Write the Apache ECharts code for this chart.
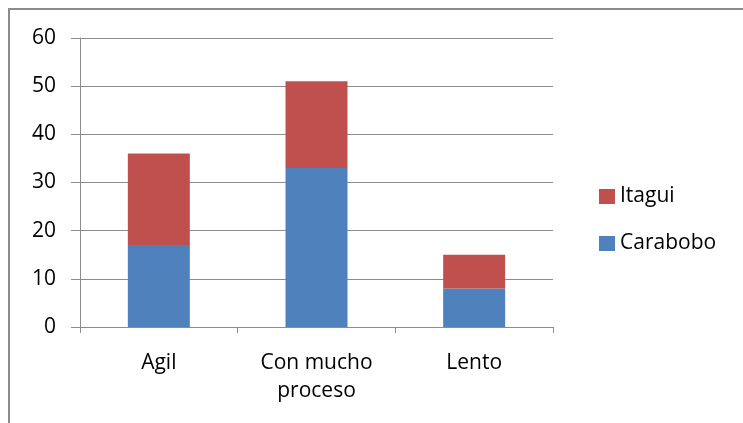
<!DOCTYPE html>
<html>
<head>
<meta charset="utf-8">
<style>
  html, body { margin: 0; padding: 0; background: #fff; }
  #chart { width: 743px; height: 423px; }
</style>
<script src="https://cdn.jsdelivr.net/npm/echarts@6/dist/echarts.min.js"></script>
</head>
<body>
<div id="chart"></div>
<script>
const categories = ['Agil', 'Con mucho\nproceso', 'Lento']
const carabobo = [17, 33, 8]
const itagui = [19, 18, 7]
const yTicks = { min: 0, max: 60, interval: 10 }

const chart = echarts.init(document.getElementById('chart'))
const font = 'Open Sans'
chart.setOption({
  animation: false,
  textStyle: { fontFamily: font },
  graphic: [{
    type: 'rect',
    shape: { x: 9, y: 9, width: 900, height: 600 },
    style: { fill: 'none', stroke: '#8c8c8c', lineWidth: 2 }
  }],
  legend: {
    orient: 'vertical',
    left: 594,
    top: 181,
    itemWidth: 16,
    itemHeight: 15,
    itemGap: 26,
    icon: 'rect',
    data: ['Itagui', 'Carabobo'],
    textStyle: { fontFamily: font, fontSize: 21, color: '#000' }
  },
  grid: { left: 80, right: 190, top: 38, bottom: 96 },
  xAxis: {
    type: 'category',
    data: categories,
    axisLine: { lineStyle: { color: '#8c8c8c', width: 1 } },
    axisTick: { show: true, length: 6, lineStyle: { color: '#8c8c8c' } },
    axisLabel: { color: '#000', fontSize: 21, lineHeight: 28, margin: 22, interval: 0 }
  },
  yAxis: {
    type: 'value',
    min: yTicks.min,
    max: yTicks.max,
    interval: yTicks.interval,
    axisLine: { show: true, lineStyle: { color: '#8c8c8c' } },
    axisTick: { show: true, length: 9, lineStyle: { color: '#8c8c8c' } },
    splitLine: { lineStyle: { color: '#8c8c8c' } },
    axisLabel: { color: '#000', fontSize: 21, margin: 24 }
  },
  series: [
    {
      name: 'Carabobo',
      type: 'bar',
      stack: 'total',
      barWidth: 62,
      data: carabobo,
      itemStyle: { color: '#4f81bd' }
    },
    {
      name: 'Itagui',
      type: 'bar',
      stack: 'total',
      barWidth: 62,
      data: itagui,
      itemStyle: { color: '#c0504d' }
    }
  ]
})
</script>
</body>
</html>
